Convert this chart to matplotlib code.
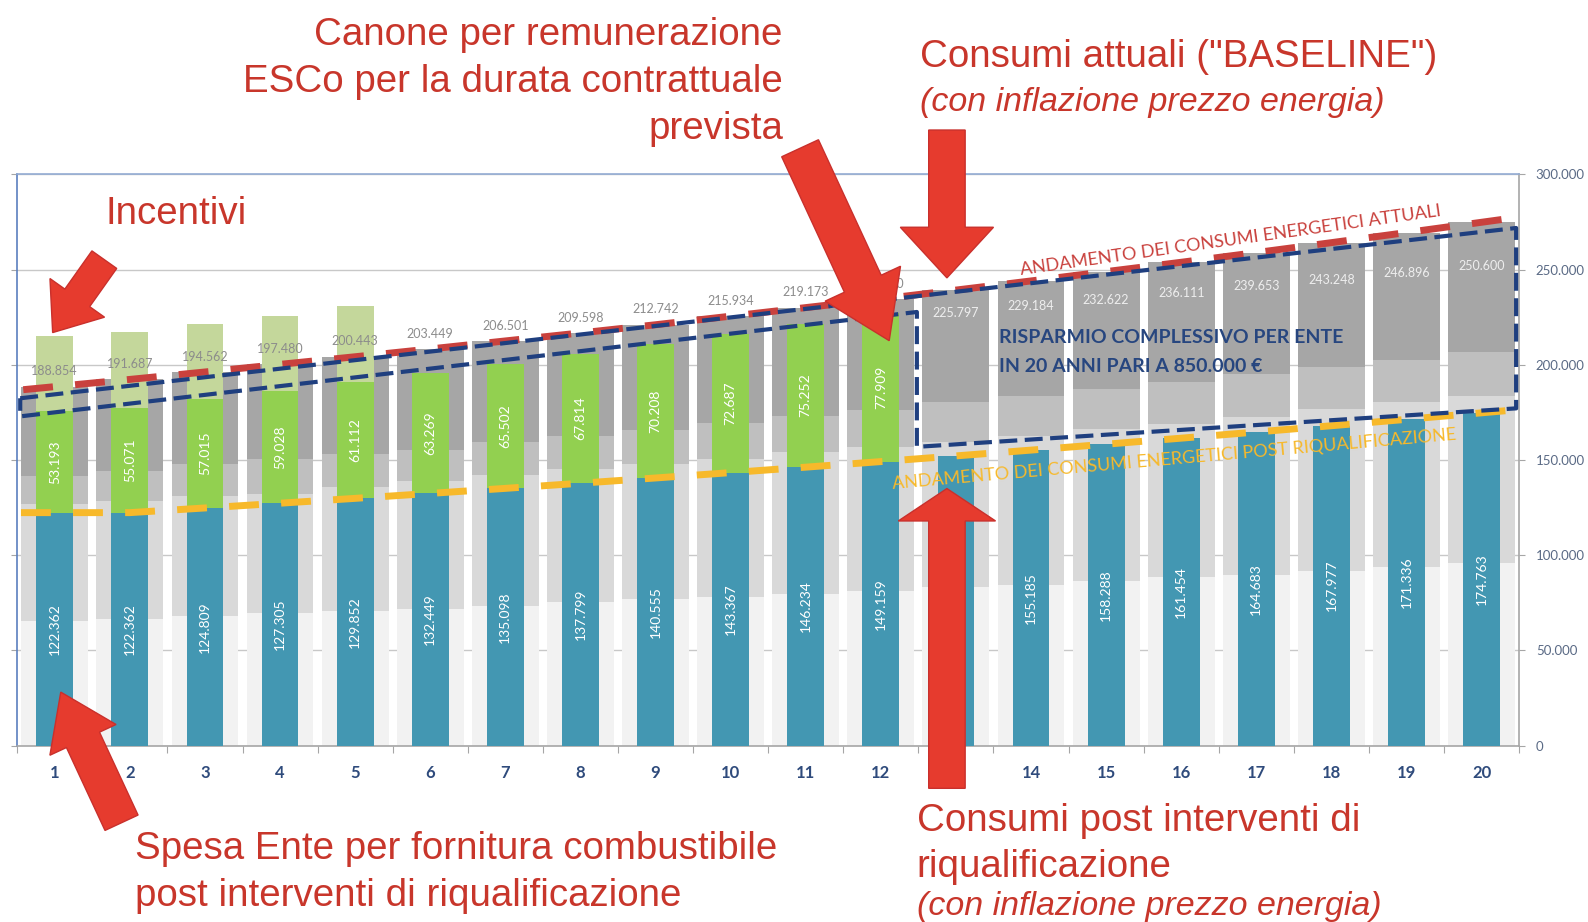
"""Piano di risparmio energetico EPC: consumi baseline vs spesa ente + canone ESCo."""

import numpy as np
import matplotlib
matplotlib.use('Agg')
import matplotlib.pyplot as plt
from matplotlib.patches import FancyArrow

# --- data ---
anni = list(range(1, 21))

# stacked grey "baseline" bar: top of each layer
baseline_l1 = [65600, 66500, 67900, 69500, 70500, 71900, 73500, 75200, 77100, 78200,
               79600, 81400, 83100, 84500, 86600, 88400, 89800, 91900, 94000, 95700]
baseline_l2 = [126900, 128600, 131250, 132300, 135600, 139100, 142300, 145200, 147900, 150500,
               154000, 156600, 159200, 162750, 166250, 168900, 172400, 176800, 180300, 183750]
baseline_l3 = [141750, 144400, 147900, 150500, 153100, 155000, 159200, 162750, 165700, 169200,
               172900, 176400, 180300, 183750, 187250, 190700, 195100, 198600, 202500, 206500]
baseline_top = [188500, 192300, 196200, 200200, 204200, 208300, 212500, 216700, 221000, 225500,
                230000, 234500, 239200, 244000, 248900, 253800, 258900, 264100, 269400, 274800]
baseline_label = [188854, 191687, 194562, 197480, 200443, 203449, 206501, 209598, 212742, 215934,
                  219173, 222460, 225797, 229184, 232622, 236111, 239653, 243248, 246896, 250600]

# front bar: spesa ente (teal), canone ESCo (green), incentivi (light green)
spesa_ente = [122362, 122362, 124809, 127305, 129852, 132449, 135098, 137799, 140555, 143367,
              146234, 149159, 152142, 155185, 158288, 161454, 164683, 167977, 171336, 174763]
canone_esco = [53193, 55071, 57015, 59028, 61112, 63269, 65502, 67814, 70208, 72687, 75252, 77909]
incentivi = [39700, 39600, 39600, 39400, 39700]

y_ticks = [0, 50000, 100000, 150000, 200000, 250000, 300000]


def fmt(v):
    return f"{v:,}".replace(',', '.')


def extend(xs, ys, pad):
    """add the line ends half a bar beyond the first/last category"""
    xs = np.asarray(xs, float)
    ys = np.asarray(ys, float)
    s0 = (ys[1] - ys[0]) / (xs[1] - xs[0])
    s1 = (ys[-1] - ys[-2]) / (xs[-1] - xs[-2])
    xe = np.concatenate([[xs[0] - pad], xs, [xs[-1] + pad]])
    ye = np.concatenate([[ys[0] - s0 * pad], ys, [ys[-1] + s1 * pad]])
    return xe, ye


W, H = 1568, 910          # reference coords used for placing annotations
S = 1588 / W / 100        # inches per reference pixel

fig = plt.figure(figsize=(15.88, 9.22), dpi=100)
ax = fig.add_axes([17 / W, 1 - 736 / H, (1500 - 17) / W, (736 - 172) / H])

x = np.array(anni)
n_can = len(canone_esco)
n_inc = len(incentivi)
l1 = np.array(baseline_l1)
l2 = np.array(baseline_l2)
l3 = np.array(baseline_l3)
top = np.array(baseline_top)
teal = np.array(spesa_ente)

# back bars (baseline)
wb = 0.89
ax.bar(x, l1, wb, color='#f2f2f2', zorder=2)
ax.bar(x, l2 - l1, wb, bottom=l1, color='#d9d9d9', zorder=2)
ax.bar(x, l3 - l2, wb, bottom=l2, color='#bfbfbf', zorder=2)
ax.bar(x, top - l3, wb, bottom=l3, color='#a6a6a6', zorder=2)

# front bars
wf = 0.49
ax.bar(x, teal, wf, color='#4397b2', zorder=3)
ax.bar(x[:n_can], canone_esco, wf, bottom=teal[:n_can], color='#92d050', zorder=3)
inc_base = teal[:n_inc] + np.array(canone_esco[:n_inc])
ax.bar(x[:n_inc], incentivi, wf, bottom=inc_base, color='#c4d79b', zorder=3)

lab_font = dict(family='Lato', fontsize=10, color='white', rotation=90,
                ha='center', va='center', zorder=6)
for i, v in enumerate(spesa_ente):
    if i == 12:
        continue
    ax.text(x[i], v / 2, fmt(v), **lab_font)
for i, v in enumerate(canone_esco):
    ax.text(x[i], spesa_ente[i] + v / 2, fmt(v), **lab_font)

# baseline totals: above the bar while the ESCo fee runs, inside afterwards
for i, v in enumerate(baseline_label):
    if i < n_can:
        ax.annotate(fmt(v), (x[i], baseline_top[i]), xytext=(0, 11),
                    textcoords='offset points', ha='center', va='center',
                    family='Lato', fontsize=9, color='#8c8c8c', zorder=6)
    else:
        ax.annotate(fmt(v), (x[i], v), xytext=(0, 2), textcoords='offset points',
                    ha='center', va='center', family='Lato', fontsize=9,
                    color='#eeeeee', zorder=6)

# trend lines
xr, yr = extend(x, top, 0.42)
ax.plot(xr, yr, color='#c9413d', lw=5, dashes=(4.3, 3.2), zorder=5, dash_capstyle='butt')
xo, yo = extend(x, teal, 0.45)
ax.plot(xo, yo, color='#f7b92b', lw=5, dashes=(4.3, 3.2), zorder=5, dash_capstyle='butt')

# savings outline (navy dashed)
bx = [0.54, 20.46, 20.46, 12.48, 12.48, 0.54, 0.54]
by = [182400, 271800, 177100, 156900, 227700, 172900, 182400]
ax.plot(bx, by, color='#1f3f7f', lw=3, dashes=(4.3, 1.8), zorder=5)

ax.text(16.66, 265400, 'ANDAMENTO DEI CONSUMI ENERGETICI ATTUALI', family='Lato',
        fontsize=13, color='#c9413d', rotation=8, rotation_mode='anchor',
        ha='center', va='center', zorder=7)
ax.text(15.91, 150500, 'ANDAMENTO DEI CONSUMI ENERGETICI POST RIQUALIFICAZIONE',
        family='Lato', fontsize=13, color='#f7b92b', rotation=5, rotation_mode='anchor',
        ha='center', va='center', zorder=7)
ax.text(13.58, 214350, 'RISPARMIO COMPLESSIVO PER ENTE', family='Lato', fontsize=14,
        fontweight='bold', color='#27467f', ha='left', va='center', zorder=7)
ax.text(13.58, 198900, 'IN 20 ANNI PARI A 850.000 €', family='Lato', fontsize=14,
        fontweight='bold', color='#27467f', ha='left', va='center', zorder=7)

# axes styling
ax.set_xlim(0.5, 20.5)
ax.set_ylim(0, 300000)
ax.set_yticks(y_ticks)
ax.set_yticklabels([fmt(v) for v in y_ticks])
ax.set_xticks(np.arange(0.5, 21, 1))
ax.set_xticklabels([])
ax.set_xticks(x, minor=True)
ax.set_xticklabels([str(a) for a in anni], minor=True)
ax.tick_params(axis='x', which='major', length=5, color='#a6a6a6')
ax.tick_params(axis='x', which='minor', length=0, pad=14, labelsize=12,
               labelcolor='#2f4b7c')
for t in ax.get_xticklabels(minor=True):
    t.set_fontweight('bold')
    t.set_family('Lato')
ax.tick_params(axis='y', left=True, right=True, labelleft=False, labelright=True,
               length=4, color='#a6a6a6', labelsize=9.5, labelcolor='#5a6a85', pad=8)
for t in ax.get_yticklabels():
    t.set_family('Lato')
ax.grid(axis='y', color='#c8c8c8', lw=1, zorder=0)
ax.set_axisbelow(True)
ax.spines['left'].set_color('#5b7fbf')
ax.spines['top'].set_color('#93acd3')
ax.spines['right'].set_color('#a6a6a6')
ax.spines['bottom'].set_color('#a6a6a6')
for sp in ax.spines.values():
    sp.set_linewidth(1.2)

# slide annotations
red = '#c8362b'
big = dict(family='Liberation Sans', fontsize=27.7, color=red, va='center')
ital = dict(family='Liberation Sans', fontsize=24.5, color=red, va='center', style='italic')


def ftext(xs, ys, s, **kw):
    # +3 px: va='center' sits a little high for these lines
    fig.text(xs / W, 1 - (ys + 3) / H, s, **kw)


ftext(773, 32, 'Canone per remunerazione', ha='right', **big)
ftext(773, 78, 'ESCo per la durata contrattuale', ha='right', **big)
ftext(773, 124, 'prevista', ha='right', **big)
ftext(908, 53, 'Consumi attuali ("BASELINE")', ha='left', **big)
ftext(908, 98, '(con inflazione prezzo energia)', ha='left', **ital)
ftext(104, 208, 'Incentivi', ha='left', **big)
ftext(133, 835, 'Spesa Ente per fornitura combustibile', ha='left', **big)
ftext(133, 881, 'post interventi di riqualificazione', ha='left', **big)
ftext(905, 807, 'Consumi post interventi di', ha='left', **big)
ftext(905, 853, 'riqualificazione', ha='left', **big)
ftext(905, 892, '(con inflazione prezzo energia)', ha='left', **ital)


def arrow(tail, tip, shaft, head_w, head_l):
    x0, y0 = tail[0] * S, (H - tail[1]) * S
    x1, y1 = tip[0] * S, (H - tip[1]) * S
    a = FancyArrow(x0, y0, x1 - x0, y1 - y0, width=shaft * S, head_width=head_w * S,
                   head_length=head_l * S, length_includes_head=True,
                   transform=fig.dpi_scale_trans, fc='#e63b2e', ec='#c9302c', lw=1,
                   zorder=20)
    fig.add_artist(a)


arrow((103, 256), (52, 328), 30, 66, 42)
arrow((790, 146), (878, 336), 40, 82, 62)
arrow((935, 128), (935, 274), 36, 92, 50)
arrow((120, 812), (60, 683), 36, 72, 52)
arrow((935, 778), (935, 482), 36, 96, 32)

fig.savefig('out.png', dpi=100, facecolor='white')
